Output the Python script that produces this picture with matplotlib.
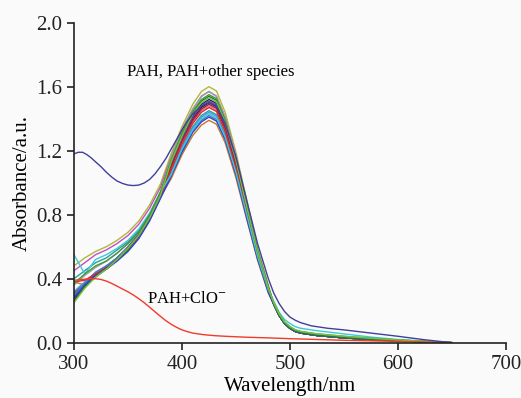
import matplotlib.pyplot as plt

plt.rcParams['font.family'] = ['Liberation Serif', 'DejaVu Serif']
plt.rcParams['mathtext.fontset'] = 'stix'

# Datos
# parte inicial y pico (300-480 nm), comun a todas las curvas del grupo
wl_cabeza = [300, 310, 320, 330, 340, 350, 360, 370, 380, 390, 400, 410, 418, 425,
             432, 440, 450, 460, 470, 480]
# cola (485-650 nm)
wl_cola = [485, 490, 495, 500, 505, 510, 525, 550, 575, 600, 650]
colas = {
    'comun': [0.24, 0.17, 0.12, 0.09, 0.07, 0.06, 0.045, 0.03, 0.02, 0.012, 0.0],
    'cian':  [0.26, 0.19, 0.145, 0.12, 0.10, 0.09, 0.075, 0.055, 0.035, 0.02, 0.0],
    'verde': [0.25, 0.18, 0.13, 0.10, 0.08, 0.07, 0.055, 0.04, 0.028, 0.017, 0.0],
}

# PAH y PAH + otras especies (una curva por muestra): color, cabeza, cola
pah_series = [
    ('#b0b838', [0.48, 0.53, 0.57, 0.60, 0.64, 0.69, 0.76, 0.86, 0.99, 1.18, 1.35, 1.49, 1.57, 1.60,
                 1.573, 1.44, 1.19, 0.89, 0.59, 0.36], 'comun'),
    ('#c050c0', [0.45, 0.50, 0.55, 0.58, 0.62, 0.67, 0.74, 0.84, 0.97, 1.16, 1.33, 1.46, 1.54, 1.57,
                 1.54, 1.41, 1.17, 0.87, 0.58, 0.35], 'comun'),
    ('#a0a0a0', [0.36, 0.42, 0.47, 0.51, 0.56, 0.62, 0.70, 0.80, 0.94, 1.16, 1.33, 1.46, 1.54, 1.57,
                 1.54, 1.41, 1.17, 0.87, 0.58, 0.35], 'comun'),
    ('#2a9d9d', [0.40, 0.45, 0.50, 0.53, 0.58, 0.63, 0.70, 0.80, 0.93, 1.07, 1.225, 1.35, 1.42, 1.45,
                 1.425, 1.30, 1.08, 0.80, 0.54, 0.325], 'comun'),
    ('#c8782a', [0.38, 0.36, 0.42, 0.46, 0.52, 0.58, 0.66, 0.77, 0.91, 1.025, 1.175, 1.295, 1.36, 1.39,
                 1.365, 1.25, 1.03, 0.77, 0.515, 0.31], 'comun'),
    ('#1e1e64', [0.27, 0.35, 0.42, 0.47, 0.53, 0.59, 0.67, 0.78, 0.92, 1.12, 1.285, 1.42, 1.49, 1.52,
                 1.495, 1.365, 1.13, 0.84, 0.565, 0.34], 'comun'),
    ('#222222', [0.28, 0.36, 0.43, 0.47, 0.53, 0.59, 0.67, 0.78, 0.92, 1.105, 1.27, 1.40, 1.47, 1.50,
                 1.475, 1.35, 1.115, 0.83, 0.56, 0.335], 'comun'),
    ('#e070a0', [0.30, 0.37, 0.43, 0.47, 0.53, 0.59, 0.67, 0.78, 0.92, 1.09, 1.25, 1.38, 1.45, 1.48,
                 1.455, 1.33, 1.10, 0.82, 0.55, 0.33], 'comun'),
    ('#7040a0', [0.29, 0.36, 0.42, 0.47, 0.53, 0.60, 0.68, 0.79, 0.93, 1.11, 1.275, 1.41, 1.48, 1.51,
                 1.485, 1.355, 1.12, 0.835, 0.56, 0.335], 'comun'),
    ('#a02040', [0.31, 0.37, 0.43, 0.47, 0.53, 0.59, 0.67, 0.78, 0.92, 1.10, 1.26, 1.39, 1.46, 1.49,
                 1.465, 1.34, 1.105, 0.825, 0.555, 0.33], 'comun'),
    ('#3aa0e0', [0.32, 0.38, 0.44, 0.48, 0.53, 0.59, 0.67, 0.78, 0.92, 1.06, 1.215, 1.34, 1.41, 1.44,
                 1.415, 1.295, 1.07, 0.80, 0.535, 0.32], 'comun'),
    ('#4a78c0', [0.30, 0.37, 0.44, 0.48, 0.53, 0.59, 0.66, 0.77, 0.91, 1.045, 1.20, 1.325, 1.39, 1.42,
                 1.395, 1.275, 1.055, 0.785, 0.53, 0.315], 'comun'),
    ('#e02828', [0.38, 0.39, 0.43, 0.46, 0.52, 0.58, 0.66, 0.77, 0.91, 1.08, 1.24, 1.37, 1.44, 1.47,
                 1.445, 1.32, 1.09, 0.815, 0.545, 0.33], 'comun'),
    ('#3040d0', [0.28, 0.36, 0.42, 0.46, 0.51, 0.57, 0.65, 0.76, 0.90, 1.04, 1.19, 1.315, 1.38, 1.41,
                 1.385, 1.27, 1.05, 0.78, 0.525, 0.315], 'comun'),
    ('#40c8d8', [0.55, 0.43, 0.52, 0.55, 0.59, 0.64, 0.71, 0.81, 0.94, 1.05, 1.21, 1.33, 1.40, 1.43,
                 1.405, 1.285, 1.065, 0.80, 0.54, 0.33], 'cian'),
    ('#1e7a3c', [0.26, 0.35, 0.41, 0.46, 0.52, 0.58, 0.67, 0.78, 0.93, 1.135, 1.30, 1.435, 1.51, 1.54,
                 1.515, 1.385, 1.145, 0.855, 0.57, 0.345], 'comun'),
    ('#3a9a3a', [0.37, 0.43, 0.48, 0.51, 0.56, 0.62, 0.69, 0.80, 0.94, 1.14, 1.31, 1.445, 1.52, 1.55,
                 1.525, 1.39, 1.15, 0.86, 0.575, 0.345], 'verde'),
    ('#78c040', [0.25, 0.34, 0.41, 0.46, 0.52, 0.59, 0.67, 0.78, 0.92, 1.13, 1.29, 1.43, 1.50, 1.53,
                 1.505, 1.375, 1.14, 0.85, 0.57, 0.34], 'verde'),
]

# Curva azul (absorcion en UV)
wl_azul = [300, 304, 308, 312, 316, 320, 325, 330, 335, 340, 345, 350, 355, 360, 365, 370, 375,
           380, 385, 390, 395, 400, 405, 410, 418, 425, 432, 440, 450, 460, 470, 480, 485, 490,
           495, 500, 505, 510, 520, 535, 550, 575, 600, 625, 650]
abs_azul = [1.18, 1.19, 1.19, 1.175, 1.155, 1.13, 1.10, 1.065, 1.035, 1.01, 0.995, 0.985, 0.982,
            0.985, 0.998, 1.02, 1.055, 1.10, 1.15, 1.21, 1.27, 1.33, 1.385, 1.43, 1.48, 1.50, 1.48,
            1.37, 1.16, 0.89, 0.62, 0.40, 0.31, 0.245, 0.195, 0.16, 0.14, 0.125, 0.105, 0.09, 0.08,
            0.06, 0.04, 0.018, 0.0]

# PAH + ClO-
wl_clo = [300, 305, 310, 315, 320, 325, 330, 335, 340, 345, 350, 355, 360, 365, 370, 375, 380,
          385, 390, 395, 400, 405, 410, 420, 430, 440, 460, 480, 500, 525, 550, 600, 650]
abs_clo = [0.39, 0.393, 0.397, 0.40, 0.40, 0.395, 0.385, 0.37, 0.353, 0.335, 0.318, 0.298, 0.275,
           0.25, 0.222, 0.193, 0.165, 0.138, 0.115, 0.096, 0.08, 0.069, 0.06, 0.05, 0.044, 0.04,
           0.034, 0.03, 0.025, 0.02, 0.015, 0.008, 0.0]

fig = plt.figure(figsize=(5.21, 3.98), dpi=100, facecolor='#fafafa')
ax = fig.add_axes([0.142, 0.139, 0.829, 0.804], facecolor='#fafafa')

for color, cabeza, cola in pah_series:
    ax.plot(wl_cabeza + wl_cola, cabeza + colas[cola], color=color, linewidth=1.0)
ax.plot(wl_clo, abs_clo, color='#f03a2a', linewidth=1.0)
ax.plot(wl_azul, abs_azul, color='#40409a', linewidth=1.0)

# Textos
ax.text(427, 1.69, 'PAH, PAH+other species', fontsize=12, ha='center', va='center')
ax.text(405, 0.27, r'PAH+ClO$^{-}$', fontsize=12, ha='center', va='center')

# Ejes
ax.set_xlim(300, 700)
ax.set_ylim(0, 2.0)
ax.set_xticks([300, 400, 500, 600, 700])
ax.set_yticks([0.0, 0.4, 0.8, 1.2, 1.6, 2.0])
ax.set_yticklabels(['0.0', '0.4', '0.8', '1.2', '1.6', '2.0'])
ax.spines['top'].set_visible(False)
ax.spines['right'].set_visible(False)
for s in ['left', 'bottom']:
    ax.spines[s].set_linewidth(1.2)
    ax.spines[s].set_color('#222222')
ax.tick_params(direction='out', length=5, width=1.2, labelsize=15, colors='#222222')
ax.tick_params(axis='x', pad=4)
ax.set_xlabel('Wavelength/nm', fontsize=15, labelpad=2)
ax.set_ylabel('Absorbance/a.u.', fontsize=15, labelpad=3)

plt.savefig('out.png', dpi=100, facecolor='#fafafa')
